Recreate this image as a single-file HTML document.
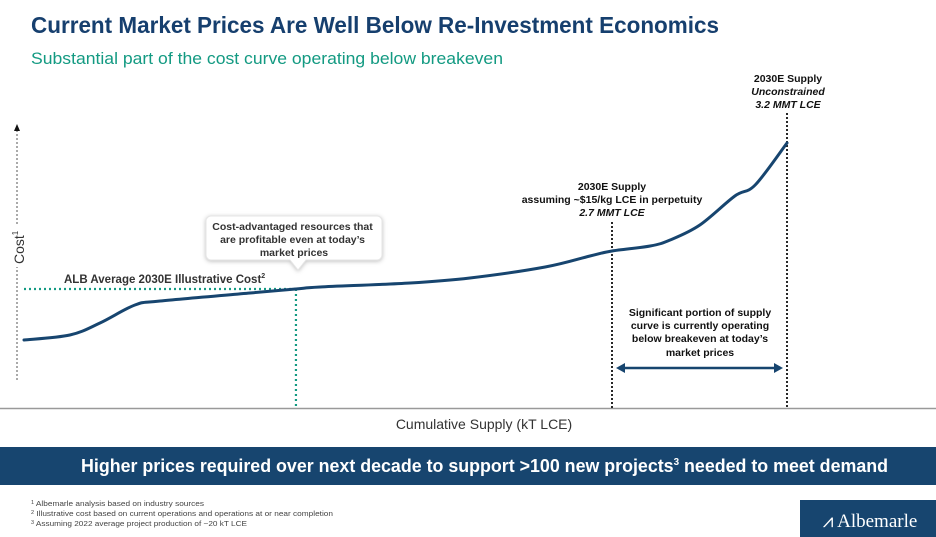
<!DOCTYPE html>
<html><head><meta charset="utf-8">
<style>
html,body{margin:0;padding:0;background:#fff;}
svg{display:block;font-family:"Liberation Sans",Arial,sans-serif;}
</style></head>
<body>
<svg id="chart" width="936" height="537" viewBox="0 0 936 537" xmlns="http://www.w3.org/2000/svg">
  <text x="31" y="33" font-size="23" font-weight="bold" fill="#163f6e" textLength="688" lengthAdjust="spacingAndGlyphs">Current Market Prices Are Well Below Re-Investment Economics</text>
  <text x="31" y="64" font-size="17" fill="#139a82" textLength="472" lengthAdjust="spacingAndGlyphs">Substantial part of the cost curve operating below breakeven</text>

  <line x1="17" y1="130" x2="17" y2="382" stroke="#555" stroke-width="1" stroke-dasharray="2,2"/>
  <polygon points="14,131 20,131 17,124" fill="#111"/>
  <rect x="10" y="225" width="16" height="42" fill="#fff"/>
  <text transform="translate(24,264) rotate(-90)" font-size="14" fill="#333">Cost<tspan font-size="8" dy="-6">1</tspan></text>

  <line x1="0" y1="408.5" x2="936" y2="408.5" stroke="#999" stroke-width="1.5"/>
  <text x="484" y="429" font-size="14" fill="#333" text-anchor="middle">Cumulative Supply (kT LCE)</text>

  <g id="marks"></g>

  <g>
    <path d="M211 216 H377 a5 5 0 0 1 5 5 V255 a5 5 0 0 1 -5 5 H306 L298 270 L290 260 H211 a5 5 0 0 1 -5 -5 V221 a5 5 0 0 1 5 -5 Z" fill="#fff" stroke="#e6e6e6" stroke-width="1" style="filter:drop-shadow(0 1px 2px rgba(0,0,0,0.25))"/>
    <text font-size="10.5" font-weight="bold" fill="#333" text-anchor="middle">
      <tspan x="294" y="230">Cost-advantaged resources that</tspan>
      <tspan x="294" y="243">are profitable even at today’s</tspan>
      <tspan x="294" y="256">market prices</tspan>
    </text>
  </g>

  <text x="64" y="283" font-size="11.5" font-weight="bold" fill="#333">ALB Average 2030E Illustrative Cost<tspan font-size="7" dy="-5">2</tspan></text>

  <g font-size="10.5" font-weight="bold" fill="#111" text-anchor="middle">
    <text x="612" y="190">2030E Supply</text>
    <text x="612" y="203">assuming ~$15/kg LCE in perpetuity</text>
    <text x="612" y="216" font-style="italic">2.7 MMT LCE</text>
  </g>
  <g font-size="10.5" font-weight="bold" fill="#111" text-anchor="middle">
    <text x="788" y="82">2030E Supply</text>
    <text x="788" y="95" font-style="italic">Unconstrained</text>
    <text x="788" y="108" font-style="italic">3.2 MMT LCE</text>
  </g>
  <g font-size="10.5" font-weight="bold" fill="#111" text-anchor="middle">
    <text x="700" y="316">Significant portion of supply</text>
    <text x="700" y="329">curve is currently operating</text>
    <text x="700" y="342">below breakeven at today’s</text>
    <text x="700" y="356">market prices</text>
  </g>

  <rect x="0" y="447" width="936" height="38" fill="#17456f"/>
  <text x="81" y="472" font-size="18" font-weight="bold" fill="#fff" textLength="807" lengthAdjust="spacingAndGlyphs">Higher prices required over next decade to support &gt;100 new projects<tspan font-size="10" dy="-7">3</tspan><tspan dy="7">  needed to meet demand</tspan></text>

  <g font-size="7.5" fill="#444">
    <text x="31" y="506" textLength="173" lengthAdjust="spacingAndGlyphs"><tspan font-size="5" dy="-2">1</tspan><tspan dy="2"> Albemarle analysis based on industry sources</tspan></text>
    <text x="31" y="516" textLength="302" lengthAdjust="spacingAndGlyphs"><tspan font-size="5" dy="-2">2</tspan><tspan dy="2"> Illustrative cost based on current operations and operations at or near completion</tspan></text>
    <text x="31" y="526" textLength="216" lengthAdjust="spacingAndGlyphs"><tspan font-size="5" dy="-2">3</tspan><tspan dy="2"> Assuming 2022 average project production of ~20 kT LCE</tspan></text>
  </g>
  <rect x="800" y="500" width="136" height="37" fill="#17456f"/>
  <text x="870" y="527" font-family="Liberation Serif,serif" font-size="19" fill="#fff" text-anchor="middle">⩘ Albemarle</text>
</svg>
<script>
const supplyKT = [1020,1151,1237,1337,1409,1666,1797,1866,2123,2294,2509,2637,2700,2809,2866,2951,3051,3109,3200];
const costIdx  = [34,36.5,42.5,51.5,53.5,57.5,59.5,60.5,62.5,65,70.5,76,78.5,81,84,91.5,106,111.5,132.5];
const albAvgCost = [59.5];
const supplyMarkers = [2700,3200];
const axisBaseKT = [1020];

const xS = v => -333 + 0.35 * v;
const yS = v => 408 - 2 * v;
const NS = 'http://www.w3.org/2000/svg';
const g = document.getElementById('marks');
function mk(tag, attrs){const e=document.createElementNS(NS,tag);for(const k in attrs)e.setAttribute(k,attrs[k]);g.appendChild(e);return e;}

const avgY = yS(albAvgCost[0]);
let cross = 0;
for (let i=1;i<costIdx.length;i++){ if(costIdx[i]>=albAvgCost[0]){const t=(albAvgCost[0]-costIdx[i-1])/(costIdx[i]-costIdx[i-1]);cross=supplyKT[i-1]+t*(supplyKT[i]-supplyKT[i-1]);break;} }
const h = mk('line',{x1:xS(axisBaseKT[0]),y1:avgY,x2:xS(cross),y2:avgY,stroke:'#139a82','stroke-width':2.2,'stroke-dasharray':'2,3'});


const v = mk('line',{x1:xS(cross),y1:avgY,x2:xS(cross),y2:408,stroke:'#139a82','stroke-width':2.2,'stroke-dasharray':'2,3'});



const mTop=[222,113];
supplyMarkers.forEach((s,i)=>{
  const l = mk('line',{x1:xS(s),y1:mTop[i],x2:xS(s),y2:408,stroke:'#111','stroke-width':1.8,'stroke-dasharray':'2,2'});
  
  
});

const ax1=xS(supplyMarkers[0])+4, ax2=xS(supplyMarkers[1])-4, ay=368;
const ar = mk('line',{x1:ax1+6,y1:ay,x2:ax2-6,y2:ay,stroke:'#17456f','stroke-width':2.5});


const ah1 = mk('polygon',{points:`${ax1},${ay} ${ax1+9},${ay-5} ${ax1+9},${ay+5}`,fill:'#17456f'});


const ah2 = mk('polygon',{points:`${ax2},${ay} ${ax2-9},${ay-5} ${ax2-9},${ay+5}`,fill:'#17456f'});



const P = supplyKT.map((s,i)=>[xS(s),yS(costIdx[i])]);
let d = `M${P[0][0]},${P[0][1]}`;
for(let i=0;i<P.length-1;i++){
  const p0=P[Math.max(0,i-1)],p1=P[i],p2=P[i+1],p3=P[Math.min(P.length-1,i+2)];
  const c1=[p1[0]+(p2[0]-p0[0])/6,p1[1]+(p2[1]-p0[1])/6];
  const c2=[p2[0]-(p3[0]-p1[0])/6,p2[1]-(p3[1]-p1[1])/6];
  d+=` C${c1[0]},${c1[1]} ${c2[0]},${c2[1]} ${p2[0]},${p2[1]}`;
}
const curve = mk('path',{d:d,fill:'none',stroke:'#17456f','stroke-width':3,'stroke-linecap':'round'});


</script>
</body></html>
